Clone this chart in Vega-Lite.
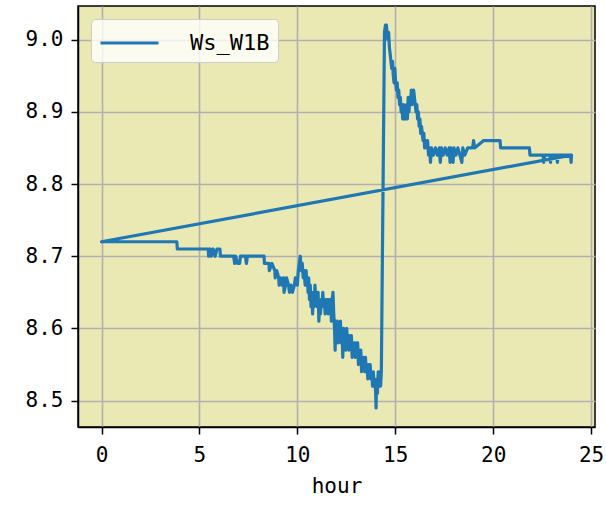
{
  "$schema": "https://vega.github.io/schema/vega-lite/v6.json",
  "autosize": "none",
  "width": 517,
  "height": 421,
  "padding": {"left": 78, "top": 6, "right": 11, "bottom": 78},
  "background": "white",
  "config": {
    "view": {"fill": "#ebe9b3", "stroke": "black", "strokeWidth": 1.5},
    "axis": {
      "labelFont": "DejaVu Sans Mono", "labelFontSize": 21, "labelColor": "black",
      "titleFont": "DejaVu Sans Mono", "titleFontSize": 21, "titleColor": "black", "titleFontWeight": "normal",
      "domainColor": "black", "domainWidth": 1.5,
      "tickColor": "black", "tickWidth": 1.5, "tickSize": 7,
      "gridColor": "#b0b0b0", "gridWidth": 1.6, "grid": true,
      "labelFlush": false, "labelOverlap": false
    }
  },
  "data": {
    "values": [
      {"i":0,"hour":0.00,"Ws_W1B":8.72},
      {"i":1,"hour":3.85,"Ws_W1B":8.72},
      {"i":2,"hour":3.87,"Ws_W1B":8.71},
      {"i":3,"hour":5.45,"Ws_W1B":8.71},
      {"i":4,"hour":5.47,"Ws_W1B":8.70},
      {"i":5,"hour":5.55,"Ws_W1B":8.71},
      {"i":6,"hour":5.60,"Ws_W1B":8.70},
      {"i":7,"hour":5.70,"Ws_W1B":8.71},
      {"i":8,"hour":5.80,"Ws_W1B":8.70},
      {"i":9,"hour":5.90,"Ws_W1B":8.71},
      {"i":10,"hour":6.05,"Ws_W1B":8.71},
      {"i":11,"hour":6.07,"Ws_W1B":8.70},
      {"i":12,"hour":6.75,"Ws_W1B":8.70},
      {"i":13,"hour":6.80,"Ws_W1B":8.69},
      {"i":14,"hour":6.85,"Ws_W1B":8.70},
      {"i":15,"hour":6.95,"Ws_W1B":8.69},
      {"i":16,"hour":7.05,"Ws_W1B":8.69},
      {"i":17,"hour":7.10,"Ws_W1B":8.70},
      {"i":18,"hour":7.35,"Ws_W1B":8.70},
      {"i":19,"hour":7.40,"Ws_W1B":8.69},
      {"i":20,"hour":7.45,"Ws_W1B":8.70},
      {"i":21,"hour":8.30,"Ws_W1B":8.70},
      {"i":22,"hour":8.32,"Ws_W1B":8.69},
      {"i":23,"hour":8.55,"Ws_W1B":8.69},
      {"i":24,"hour":8.57,"Ws_W1B":8.68},
      {"i":25,"hour":8.70,"Ws_W1B":8.69},
      {"i":26,"hour":8.85,"Ws_W1B":8.68},
      {"i":27,"hour":8.87,"Ws_W1B":8.67},
      {"i":28,"hour":8.95,"Ws_W1B":8.68},
      {"i":29,"hour":9.05,"Ws_W1B":8.67},
      {"i":30,"hour":9.07,"Ws_W1B":8.66},
      {"i":31,"hour":9.15,"Ws_W1B":8.67},
      {"i":32,"hour":9.22,"Ws_W1B":8.66},
      {"i":33,"hour":9.30,"Ws_W1B":8.67},
      {"i":34,"hour":9.32,"Ws_W1B":8.65},
      {"i":35,"hour":9.40,"Ws_W1B":8.66},
      {"i":36,"hour":9.45,"Ws_W1B":8.67},
      {"i":37,"hour":9.55,"Ws_W1B":8.66},
      {"i":38,"hour":9.60,"Ws_W1B":8.65},
      {"i":39,"hour":9.68,"Ws_W1B":8.66},
      {"i":40,"hour":9.75,"Ws_W1B":8.65},
      {"i":41,"hour":9.85,"Ws_W1B":8.66},
      {"i":42,"hour":9.90,"Ws_W1B":8.67},
      {"i":43,"hour":10.00,"Ws_W1B":8.66},
      {"i":44,"hour":10.05,"Ws_W1B":8.68},
      {"i":45,"hour":10.10,"Ws_W1B":8.69},
      {"i":46,"hour":10.15,"Ws_W1B":8.70},
      {"i":47,"hour":10.20,"Ws_W1B":8.68},
      {"i":48,"hour":10.25,"Ws_W1B":8.69},
      {"i":49,"hour":10.30,"Ws_W1B":8.67},
      {"i":50,"hour":10.35,"Ws_W1B":8.68},
      {"i":51,"hour":10.40,"Ws_W1B":8.66},
      {"i":52,"hour":10.45,"Ws_W1B":8.68},
      {"i":53,"hour":10.48,"Ws_W1B":8.66},
      {"i":54,"hour":10.52,"Ws_W1B":8.67},
      {"i":55,"hour":10.55,"Ws_W1B":8.65},
      {"i":56,"hour":10.58,"Ws_W1B":8.67},
      {"i":57,"hour":10.62,"Ws_W1B":8.64},
      {"i":58,"hour":10.66,"Ws_W1B":8.66},
      {"i":59,"hour":10.70,"Ws_W1B":8.63},
      {"i":60,"hour":10.74,"Ws_W1B":8.65},
      {"i":61,"hour":10.78,"Ws_W1B":8.62},
      {"i":62,"hour":10.82,"Ws_W1B":8.65},
      {"i":63,"hour":10.86,"Ws_W1B":8.63},
      {"i":64,"hour":10.90,"Ws_W1B":8.66},
      {"i":65,"hour":10.94,"Ws_W1B":8.64},
      {"i":66,"hour":10.98,"Ws_W1B":8.65},
      {"i":67,"hour":11.02,"Ws_W1B":8.63},
      {"i":68,"hour":11.06,"Ws_W1B":8.65},
      {"i":69,"hour":11.10,"Ws_W1B":8.61},
      {"i":70,"hour":11.14,"Ws_W1B":8.64},
      {"i":71,"hour":11.18,"Ws_W1B":8.62},
      {"i":72,"hour":11.22,"Ws_W1B":8.64},
      {"i":73,"hour":11.26,"Ws_W1B":8.63},
      {"i":74,"hour":11.30,"Ws_W1B":8.65},
      {"i":75,"hour":11.34,"Ws_W1B":8.63},
      {"i":76,"hour":11.38,"Ws_W1B":8.64},
      {"i":77,"hour":11.42,"Ws_W1B":8.62},
      {"i":78,"hour":11.46,"Ws_W1B":8.64},
      {"i":79,"hour":11.50,"Ws_W1B":8.63},
      {"i":80,"hour":11.54,"Ws_W1B":8.64},
      {"i":81,"hour":11.58,"Ws_W1B":8.62},
      {"i":82,"hour":11.62,"Ws_W1B":8.64},
      {"i":83,"hour":11.66,"Ws_W1B":8.63},
      {"i":84,"hour":11.70,"Ws_W1B":8.64},
      {"i":85,"hour":11.74,"Ws_W1B":8.61},
      {"i":86,"hour":11.78,"Ws_W1B":8.64},
      {"i":87,"hour":11.82,"Ws_W1B":8.65},
      {"i":88,"hour":11.86,"Ws_W1B":8.62},
      {"i":89,"hour":11.90,"Ws_W1B":8.60},
      {"i":90,"hour":11.93,"Ws_W1B":8.57},
      {"i":91,"hour":11.96,"Ws_W1B":8.61},
      {"i":92,"hour":12.00,"Ws_W1B":8.59},
      {"i":93,"hour":12.04,"Ws_W1B":8.61},
      {"i":94,"hour":12.08,"Ws_W1B":8.58},
      {"i":95,"hour":12.12,"Ws_W1B":8.60},
      {"i":96,"hour":12.16,"Ws_W1B":8.59},
      {"i":97,"hour":12.20,"Ws_W1B":8.61},
      {"i":98,"hour":12.24,"Ws_W1B":8.58},
      {"i":99,"hour":12.28,"Ws_W1B":8.60},
      {"i":100,"hour":12.32,"Ws_W1B":8.56},
      {"i":101,"hour":12.36,"Ws_W1B":8.60},
      {"i":102,"hour":12.40,"Ws_W1B":8.58},
      {"i":103,"hour":12.44,"Ws_W1B":8.59},
      {"i":104,"hour":12.48,"Ws_W1B":8.57},
      {"i":105,"hour":12.52,"Ws_W1B":8.60},
      {"i":106,"hour":12.56,"Ws_W1B":8.58},
      {"i":107,"hour":12.60,"Ws_W1B":8.59},
      {"i":108,"hour":12.64,"Ws_W1B":8.57},
      {"i":109,"hour":12.68,"Ws_W1B":8.59},
      {"i":110,"hour":12.72,"Ws_W1B":8.58},
      {"i":111,"hour":12.76,"Ws_W1B":8.59},
      {"i":112,"hour":12.80,"Ws_W1B":8.56},
      {"i":113,"hour":12.84,"Ws_W1B":8.58},
      {"i":114,"hour":12.88,"Ws_W1B":8.57},
      {"i":115,"hour":12.92,"Ws_W1B":8.58},
      {"i":116,"hour":12.96,"Ws_W1B":8.56},
      {"i":117,"hour":13.00,"Ws_W1B":8.58},
      {"i":118,"hour":13.04,"Ws_W1B":8.57},
      {"i":119,"hour":13.08,"Ws_W1B":8.58},
      {"i":120,"hour":13.12,"Ws_W1B":8.55},
      {"i":121,"hour":13.16,"Ws_W1B":8.57},
      {"i":122,"hour":13.20,"Ws_W1B":8.56},
      {"i":123,"hour":13.24,"Ws_W1B":8.57},
      {"i":124,"hour":13.28,"Ws_W1B":8.54},
      {"i":125,"hour":13.32,"Ws_W1B":8.56},
      {"i":126,"hour":13.36,"Ws_W1B":8.55},
      {"i":127,"hour":13.40,"Ws_W1B":8.56},
      {"i":128,"hour":13.44,"Ws_W1B":8.54},
      {"i":129,"hour":13.48,"Ws_W1B":8.56},
      {"i":130,"hour":13.52,"Ws_W1B":8.54},
      {"i":131,"hour":13.56,"Ws_W1B":8.55},
      {"i":132,"hour":13.60,"Ws_W1B":8.53},
      {"i":133,"hour":13.64,"Ws_W1B":8.55},
      {"i":134,"hour":13.68,"Ws_W1B":8.54},
      {"i":135,"hour":13.72,"Ws_W1B":8.55},
      {"i":136,"hour":13.76,"Ws_W1B":8.53},
      {"i":137,"hour":13.80,"Ws_W1B":8.54},
      {"i":138,"hour":13.84,"Ws_W1B":8.52},
      {"i":139,"hour":13.88,"Ws_W1B":8.54},
      {"i":140,"hour":13.92,"Ws_W1B":8.52},
      {"i":141,"hour":13.96,"Ws_W1B":8.53},
      {"i":142,"hour":14.00,"Ws_W1B":8.51},
      {"i":143,"hour":14.02,"Ws_W1B":8.49},
      {"i":144,"hour":14.05,"Ws_W1B":8.53},
      {"i":145,"hour":14.09,"Ws_W1B":8.51},
      {"i":146,"hour":14.13,"Ws_W1B":8.54},
      {"i":147,"hour":14.17,"Ws_W1B":8.52},
      {"i":148,"hour":14.21,"Ws_W1B":8.54},
      {"i":149,"hour":14.25,"Ws_W1B":8.52},
      {"i":150,"hour":14.29,"Ws_W1B":8.54},
      {"i":151,"hour":14.45,"Ws_W1B":9.01},
      {"i":152,"hour":14.50,"Ws_W1B":9.02},
      {"i":153,"hour":14.55,"Ws_W1B":9.02},
      {"i":154,"hour":14.58,"Ws_W1B":9.01},
      {"i":155,"hour":14.62,"Ws_W1B":9.00},
      {"i":156,"hour":14.66,"Ws_W1B":9.01},
      {"i":157,"hour":14.70,"Ws_W1B":8.99},
      {"i":158,"hour":14.74,"Ws_W1B":8.98},
      {"i":159,"hour":14.78,"Ws_W1B":8.97},
      {"i":160,"hour":14.82,"Ws_W1B":8.96},
      {"i":161,"hour":14.86,"Ws_W1B":8.97},
      {"i":162,"hour":14.90,"Ws_W1B":8.95},
      {"i":163,"hour":14.94,"Ws_W1B":8.94},
      {"i":164,"hour":14.98,"Ws_W1B":8.96},
      {"i":165,"hour":15.02,"Ws_W1B":8.94},
      {"i":166,"hour":15.06,"Ws_W1B":8.93},
      {"i":167,"hour":15.10,"Ws_W1B":8.94},
      {"i":168,"hour":15.14,"Ws_W1B":8.92},
      {"i":169,"hour":15.18,"Ws_W1B":8.93},
      {"i":170,"hour":15.22,"Ws_W1B":8.91},
      {"i":171,"hour":15.26,"Ws_W1B":8.92},
      {"i":172,"hour":15.30,"Ws_W1B":8.90},
      {"i":173,"hour":15.34,"Ws_W1B":8.91},
      {"i":174,"hour":15.38,"Ws_W1B":8.89},
      {"i":175,"hour":15.42,"Ws_W1B":8.91},
      {"i":176,"hour":15.46,"Ws_W1B":8.89},
      {"i":177,"hour":15.50,"Ws_W1B":8.90},
      {"i":178,"hour":15.54,"Ws_W1B":8.89},
      {"i":179,"hour":15.58,"Ws_W1B":8.91},
      {"i":180,"hour":15.62,"Ws_W1B":8.89},
      {"i":181,"hour":15.66,"Ws_W1B":8.92},
      {"i":182,"hour":15.70,"Ws_W1B":8.90},
      {"i":183,"hour":15.74,"Ws_W1B":8.92},
      {"i":184,"hour":15.78,"Ws_W1B":8.91},
      {"i":185,"hour":15.82,"Ws_W1B":8.93},
      {"i":186,"hour":15.86,"Ws_W1B":8.91},
      {"i":187,"hour":15.90,"Ws_W1B":8.92},
      {"i":188,"hour":15.94,"Ws_W1B":8.93},
      {"i":189,"hour":15.98,"Ws_W1B":8.92},
      {"i":190,"hour":16.02,"Ws_W1B":8.91},
      {"i":191,"hour":16.06,"Ws_W1B":8.90},
      {"i":192,"hour":16.10,"Ws_W1B":8.91},
      {"i":193,"hour":16.14,"Ws_W1B":8.89},
      {"i":194,"hour":16.18,"Ws_W1B":8.90},
      {"i":195,"hour":16.22,"Ws_W1B":8.88},
      {"i":196,"hour":16.26,"Ws_W1B":8.89},
      {"i":197,"hour":16.30,"Ws_W1B":8.87},
      {"i":198,"hour":16.34,"Ws_W1B":8.88},
      {"i":199,"hour":16.38,"Ws_W1B":8.87},
      {"i":200,"hour":16.42,"Ws_W1B":8.86},
      {"i":201,"hour":16.46,"Ws_W1B":8.87},
      {"i":202,"hour":16.50,"Ws_W1B":8.85},
      {"i":203,"hour":16.55,"Ws_W1B":8.86},
      {"i":204,"hour":16.60,"Ws_W1B":8.85},
      {"i":205,"hour":16.65,"Ws_W1B":8.86},
      {"i":206,"hour":16.70,"Ws_W1B":8.84},
      {"i":207,"hour":16.75,"Ws_W1B":8.85},
      {"i":208,"hour":16.80,"Ws_W1B":8.83},
      {"i":209,"hour":16.85,"Ws_W1B":8.85},
      {"i":210,"hour":16.95,"Ws_W1B":8.84},
      {"i":211,"hour":17.05,"Ws_W1B":8.85},
      {"i":212,"hour":17.15,"Ws_W1B":8.84},
      {"i":213,"hour":17.25,"Ws_W1B":8.85},
      {"i":214,"hour":17.30,"Ws_W1B":8.83},
      {"i":215,"hour":17.36,"Ws_W1B":8.85},
      {"i":216,"hour":17.45,"Ws_W1B":8.84},
      {"i":217,"hour":17.55,"Ws_W1B":8.85},
      {"i":218,"hour":17.65,"Ws_W1B":8.84},
      {"i":219,"hour":17.75,"Ws_W1B":8.85},
      {"i":220,"hour":17.80,"Ws_W1B":8.83},
      {"i":221,"hour":17.85,"Ws_W1B":8.85},
      {"i":222,"hour":17.95,"Ws_W1B":8.83},
      {"i":223,"hour":18.00,"Ws_W1B":8.85},
      {"i":224,"hour":18.10,"Ws_W1B":8.84},
      {"i":225,"hour":18.20,"Ws_W1B":8.85},
      {"i":226,"hour":18.30,"Ws_W1B":8.84},
      {"i":227,"hour":18.40,"Ws_W1B":8.83},
      {"i":228,"hour":18.45,"Ws_W1B":8.85},
      {"i":229,"hour":18.55,"Ws_W1B":8.84},
      {"i":230,"hour":18.70,"Ws_W1B":8.85},
      {"i":231,"hour":18.95,"Ws_W1B":8.85},
      {"i":232,"hour":19.00,"Ws_W1B":8.86},
      {"i":233,"hour":19.05,"Ws_W1B":8.85},
      {"i":234,"hour":19.50,"Ws_W1B":8.86},
      {"i":235,"hour":20.35,"Ws_W1B":8.86},
      {"i":236,"hour":20.38,"Ws_W1B":8.85},
      {"i":237,"hour":21.85,"Ws_W1B":8.85},
      {"i":238,"hour":21.88,"Ws_W1B":8.84},
      {"i":239,"hour":22.55,"Ws_W1B":8.84},
      {"i":240,"hour":22.58,"Ws_W1B":8.83},
      {"i":241,"hour":22.62,"Ws_W1B":8.84},
      {"i":242,"hour":22.90,"Ws_W1B":8.84},
      {"i":243,"hour":22.93,"Ws_W1B":8.83},
      {"i":244,"hour":22.97,"Ws_W1B":8.84},
      {"i":245,"hour":23.25,"Ws_W1B":8.84},
      {"i":246,"hour":23.28,"Ws_W1B":8.83},
      {"i":247,"hour":23.32,"Ws_W1B":8.84},
      {"i":248,"hour":23.95,"Ws_W1B":8.84},
      {"i":249,"hour":23.98,"Ws_W1B":8.83},
      {"i":250,"hour":24.00,"Ws_W1B":8.84},
      {"i":251,"hour":0.00,"Ws_W1B":8.72}
    ]
  },
  "mark": {"type": "line", "strokeWidth": 3.2, "strokeJoin": "round", "strokeCap": "round", "clip": true},
  "encoding": {
    "x": {
      "field": "hour", "type": "quantitative",
      "scale": {"domain": [-1.2, 25.2], "nice": false, "zero": false},
      "axis": {"values": [0, 5, 10, 15, 20, 25], "format": "d", "title": "hour", "labelPadding": 10, "titlePadding": 10}
    },
    "y": {
      "field": "Ws_W1B", "type": "quantitative",
      "scale": {"domain": [8.4635, 9.0465], "nice": false, "zero": false},
      "axis": {"values": [8.5, 8.6, 8.7, 8.8, 8.9, 9.0], "format": ".1f", "title": null, "labelPadding": 8}
    },
    "order": {"field": "i", "type": "quantitative"},
    "color": {
      "datum": "Ws_W1B", "type": "nominal",
      "scale": {"range": ["#1f77b4"]},
      "legend": {
        "title": null, "orient": "none", "legendX": 13, "legendY": 13,
        "symbolType": "M-1,0H3", "symbolSize": 841, "symbolStrokeWidth": 3,
        "labelFont": "DejaVu Sans Mono", "labelFontSize": 22, "labelColor": "black", "labelOffset": 59,
        "fillColor": "rgba(255,255,255,0.8)", "strokeColor": "#cccccc", "cornerRadius": 4,
        "padding": 8
      }
    }
  }
}
